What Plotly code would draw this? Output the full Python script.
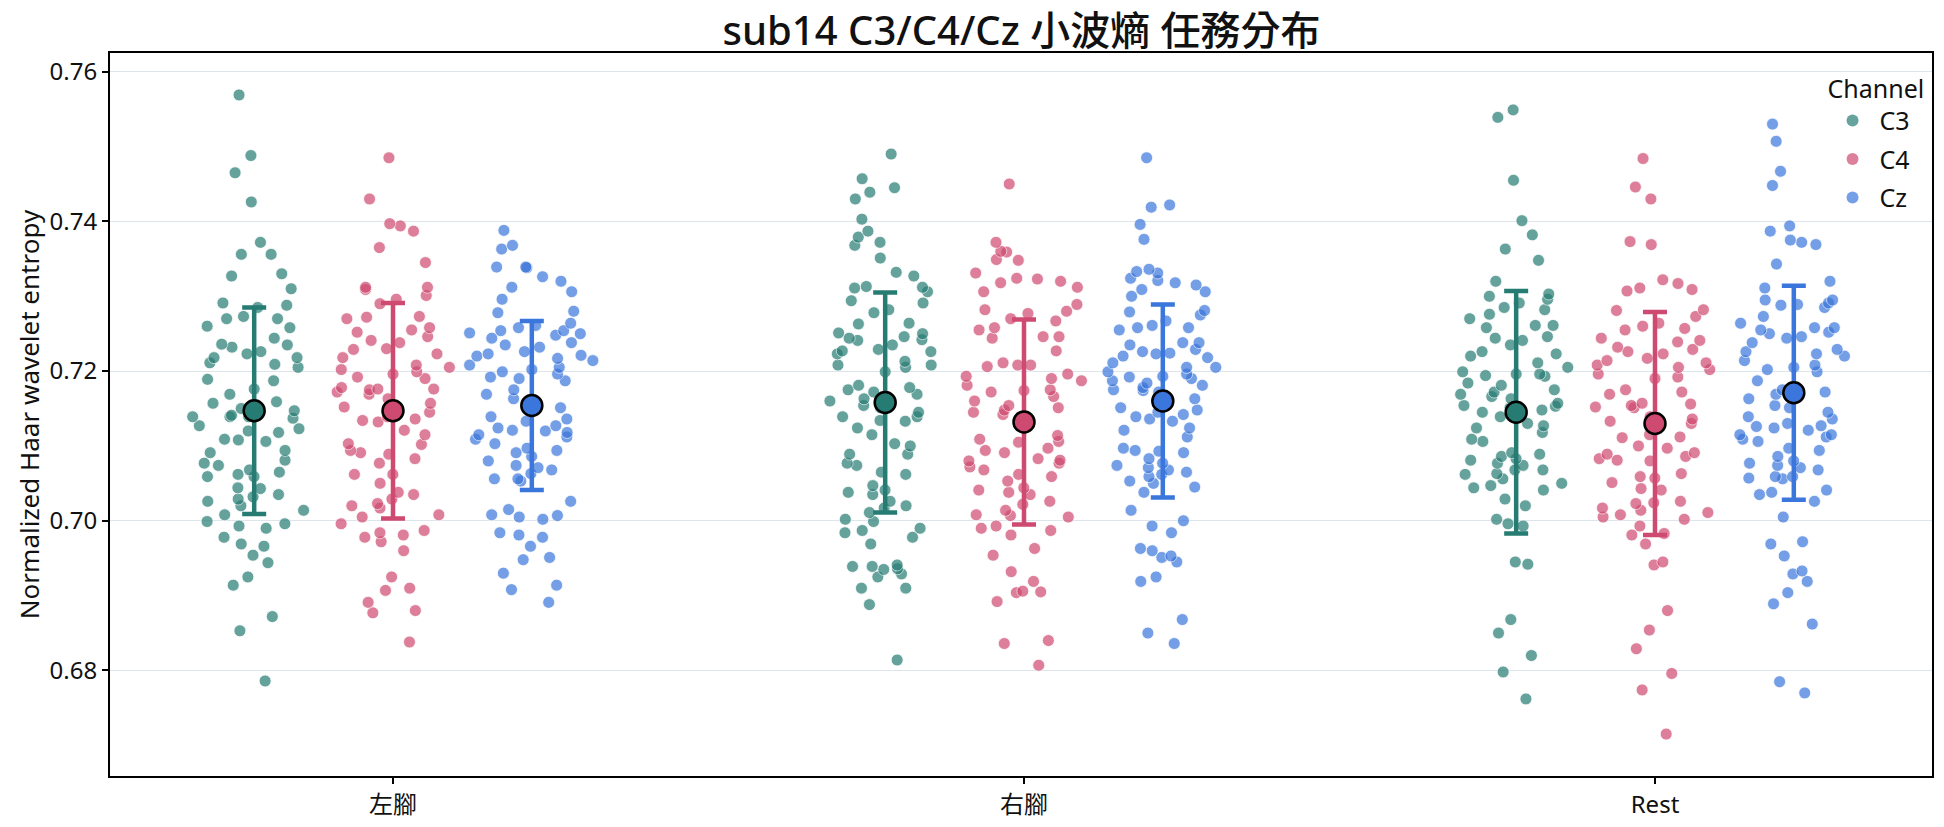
import plotly.graph_objects as go

tasks = ["左腳", "右腳", "Rest"]
channels = ["C3", "C4", "Cz"]
base_colors = {"C3": "#267c73", "C4": "#cf4a70", "Cz": "#3a76db"}

# ---- sample values ----
left_C3 = [0.7569, 0.7488, 0.7465, 0.7426, 0.7372, 0.7356, 0.7356, 0.7330, 0.7327, 0.7310, 0.7291, 0.7288,
           0.7285, 0.7273, 0.7270, 0.7270, 0.7260, 0.7258, 0.7244, 0.7236, 0.7235, 0.7232, 0.7226, 0.7223,
           0.7218, 0.7218, 0.7211, 0.7209, 0.7205, 0.7189, 0.7187, 0.7176, 0.7169, 0.7159, 0.7157, 0.7150,
           0.7147, 0.7141, 0.7139, 0.7139, 0.7139, 0.7137, 0.7127, 0.7123, 0.7120, 0.7118, 0.7109, 0.7108,
           0.7106, 0.7094, 0.7091, 0.7081, 0.7077, 0.7074, 0.7068, 0.7065, 0.7062, 0.7059, 0.7059, 0.7044,
           0.7043, 0.7035, 0.7032, 0.7029, 0.7026, 0.7020, 0.7014, 0.7008, 0.6999, 0.6996, 0.6993, 0.6990,
           0.6978, 0.6969, 0.6966, 0.6954, 0.6944, 0.6925, 0.6914, 0.6872, 0.6853, 0.6786]
left_C4 = [0.7485, 0.7430, 0.7397, 0.7394, 0.7387, 0.7365, 0.7345, 0.7312, 0.7312, 0.7309, 0.7301, 0.7296,
           0.7290, 0.7273, 0.7272, 0.7270, 0.7258, 0.7255, 0.7252, 0.7246, 0.7241, 0.7238, 0.7230, 0.7229,
           0.7223, 0.7218, 0.7208, 0.7205, 0.7202, 0.7199, 0.7196, 0.7192, 0.7190, 0.7178, 0.7176, 0.7176,
           0.7175, 0.7172, 0.7169, 0.7163, 0.7157, 0.7152, 0.7145, 0.7139, 0.7136, 0.7134, 0.7132, 0.7121,
           0.7115, 0.7103, 0.7102, 0.7094, 0.7091, 0.7089, 0.7083, 0.7077, 0.7062, 0.7062, 0.7050, 0.7038,
           0.7035, 0.7029, 0.7023, 0.7020, 0.7017, 0.7008, 0.7005, 0.6996, 0.6987, 0.6984, 0.6981, 0.6978,
           0.6972, 0.6960, 0.6925, 0.6910, 0.6907, 0.6891, 0.6880, 0.6877, 0.6838]
left_Cz = [0.7388, 0.7368, 0.7363, 0.7339, 0.7338, 0.7339, 0.7326, 0.7320, 0.7312, 0.7306, 0.7296, 0.7280,
           0.7278, 0.7264, 0.7261, 0.7258, 0.7254, 0.7254, 0.7251, 0.7250, 0.7248, 0.7244, 0.7238, 0.7235,
           0.7232, 0.7226, 0.7223, 0.7221, 0.7220, 0.7217, 0.7214, 0.7208, 0.7205, 0.7202, 0.7199, 0.7196,
           0.7192, 0.7190, 0.7187, 0.7175, 0.7169, 0.7163, 0.7160, 0.7151, 0.7139, 0.7136, 0.7133, 0.7127,
           0.7124, 0.7121, 0.7120, 0.7118, 0.7115, 0.7112, 0.7109, 0.7103, 0.7097, 0.7094, 0.7091, 0.7086,
           0.7080, 0.7074, 0.7071, 0.7068, 0.7063, 0.7056, 0.7056, 0.7053, 0.7026, 0.7015, 0.7008, 0.7007,
           0.7005, 0.7002, 0.6984, 0.6981, 0.6978, 0.6966, 0.6951, 0.6948, 0.6930, 0.6914, 0.6908, 0.6891]
right_C3 = [0.7490, 0.7457, 0.7445, 0.7439, 0.7430, 0.7403, 0.7387, 0.7379, 0.7372, 0.7368, 0.7351, 0.7332,
            0.7327, 0.7313, 0.7312, 0.7311, 0.7306, 0.7294, 0.7291, 0.7282, 0.7278, 0.7264, 0.7263, 0.7251,
            0.7250, 0.7246, 0.7244, 0.7242, 0.7241, 0.7235, 0.7229, 0.7227, 0.7226, 0.7223, 0.7213, 0.7208,
            0.7208, 0.7205, 0.7199, 0.7181, 0.7178, 0.7175, 0.7172, 0.7169, 0.7163, 0.7160, 0.7154, 0.7151,
            0.7145, 0.7139, 0.7139, 0.7134, 0.7133, 0.7124, 0.7115, 0.7103, 0.7100, 0.7089, 0.7089, 0.7077,
            0.7074, 0.7065, 0.7062, 0.7047, 0.7041, 0.7038, 0.7035, 0.7026, 0.7020, 0.7017, 0.7011, 0.7002,
            0.6999, 0.6990, 0.6987, 0.6984, 0.6978, 0.6969, 0.6941, 0.6939, 0.6939, 0.6936, 0.6935, 0.6929,
            0.6925, 0.6910, 0.6910, 0.6888, 0.6814]
right_C4 = [0.7450, 0.7372, 0.7360, 0.7359, 0.7349, 0.7348, 0.7331, 0.7324, 0.7323, 0.7320, 0.7318, 0.7312,
            0.7306, 0.7289, 0.7282, 0.7280, 0.7277, 0.7270, 0.7267, 0.7258, 0.7255, 0.7246, 0.7246, 0.7244,
            0.7227, 0.7211, 0.7208, 0.7208, 0.7206, 0.7196, 0.7193, 0.7190, 0.7187, 0.7181, 0.7175, 0.7174,
            0.7172, 0.7166, 0.7160, 0.7154, 0.7151, 0.7148, 0.7145, 0.7142, 0.7136, 0.7114, 0.7109, 0.7106,
            0.7105, 0.7097, 0.7094, 0.7091, 0.7083, 0.7081, 0.7080, 0.7077, 0.7072, 0.7068, 0.7062, 0.7059,
            0.7053, 0.7044, 0.7041, 0.7038, 0.7035, 0.7026, 0.7022, 0.7014, 0.7008, 0.7007, 0.7005, 0.6993,
            0.6990, 0.6987, 0.6981, 0.6963, 0.6954, 0.6932, 0.6919, 0.6906, 0.6905, 0.6904, 0.6892, 0.6840,
            0.6836, 0.6807]
right_Cz = [0.7485, 0.7422, 0.7419, 0.7396, 0.7376, 0.7336, 0.7333, 0.7331, 0.7324, 0.7321, 0.7318, 0.7315,
            0.7309, 0.7306, 0.7300, 0.7281, 0.7279, 0.7275, 0.7267, 0.7261, 0.7258, 0.7258, 0.7255, 0.7238,
            0.7238, 0.7235, 0.7229, 0.7226, 0.7224, 0.7223, 0.7220, 0.7218, 0.7211, 0.7205, 0.7205, 0.7199,
            0.7196, 0.7193, 0.7192, 0.7190, 0.7187, 0.7184, 0.7181, 0.7178, 0.7175, 0.7174, 0.7172, 0.7163,
            0.7151, 0.7148, 0.7145, 0.7142, 0.7139, 0.7136, 0.7133, 0.7124, 0.7121, 0.7112, 0.7097, 0.7094,
            0.7093, 0.7091, 0.7083, 0.7077, 0.7074, 0.7071, 0.7068, 0.7065, 0.7062, 0.7059, 0.7053, 0.7050,
            0.7045, 0.7038, 0.7014, 0.7000, 0.6993, 0.6984, 0.6963, 0.6960, 0.6953, 0.6951, 0.6945, 0.6925,
            0.6919, 0.6868, 0.6850, 0.6836]
rest_C3 = [0.7549, 0.7539, 0.7455, 0.7401, 0.7382, 0.7363, 0.7348, 0.7320, 0.7303, 0.7300, 0.7296, 0.7291,
           0.7285, 0.7282, 0.7276, 0.7270, 0.7261, 0.7261, 0.7258, 0.7246, 0.7244, 0.7241, 0.7235, 0.7226,
           0.7223, 0.7220, 0.7211, 0.7205, 0.7199, 0.7196, 0.7196, 0.7194, 0.7193, 0.7184, 0.7181, 0.7175,
           0.7172, 0.7169, 0.7166, 0.7163, 0.7157, 0.7154, 0.7153, 0.7151, 0.7148, 0.7145, 0.7139, 0.7130,
           0.7127, 0.7124, 0.7118, 0.7109, 0.7106, 0.7091, 0.7089, 0.7086, 0.7083, 0.7081, 0.7077, 0.7074,
           0.7068, 0.7068, 0.7063, 0.7062, 0.7056, 0.7050, 0.7047, 0.7044, 0.7041, 0.7029, 0.7020, 0.7002,
           0.6996, 0.6993, 0.6945, 0.6942, 0.6868, 0.6850, 0.6820, 0.6798, 0.6762]
rest_C4 = [0.7484, 0.7446, 0.7430, 0.7373, 0.7369, 0.7322, 0.7317, 0.7311, 0.7309, 0.7307, 0.7282, 0.7281,
           0.7273, 0.7264, 0.7260, 0.7257, 0.7255, 0.7244, 0.7241, 0.7239, 0.7232, 0.7229, 0.7226, 0.7223,
           0.7217, 0.7214, 0.7211, 0.7208, 0.7205, 0.7202, 0.7196, 0.7192, 0.7190, 0.7175, 0.7172, 0.7169,
           0.7157, 0.7156, 0.7154, 0.7152, 0.7151, 0.7139, 0.7136, 0.7133, 0.7130, 0.7115, 0.7112, 0.7111,
           0.7100, 0.7097, 0.7091, 0.7089, 0.7086, 0.7083, 0.7081, 0.7080, 0.7063, 0.7059, 0.7057, 0.7051,
           0.7043, 0.7041, 0.7026, 0.7024, 0.7023, 0.7017, 0.7014, 0.7011, 0.7008, 0.7005, 0.7002, 0.6993,
           0.6983, 0.6981, 0.6969, 0.6945, 0.6941, 0.6880, 0.6854, 0.6829, 0.6796, 0.6774, 0.6715]
rest_Cz = [0.7530, 0.7507, 0.7467, 0.7448, 0.7394, 0.7387, 0.7375, 0.7372, 0.7369, 0.7343, 0.7320, 0.7311,
           0.7295, 0.7295, 0.7291, 0.7289, 0.7288, 0.7285, 0.7273, 0.7264, 0.7258, 0.7258, 0.7255, 0.7252,
           0.7250, 0.7246, 0.7244, 0.7238, 0.7229, 0.7226, 0.7223, 0.7220, 0.7214, 0.7208, 0.7205, 0.7202,
           0.7199, 0.7187, 0.7175, 0.7172, 0.7169, 0.7163, 0.7154, 0.7151, 0.7145, 0.7139, 0.7136, 0.7130,
           0.7127, 0.7126, 0.7124, 0.7121, 0.7115, 0.7115, 0.7112, 0.7109, 0.7106, 0.7097, 0.7094, 0.7086,
           0.7080, 0.7077, 0.7074, 0.7071, 0.7068, 0.7059, 0.7059, 0.7057, 0.7056, 0.7041, 0.7038, 0.7035,
           0.7026, 0.7005, 0.6972, 0.6969, 0.6953, 0.6933, 0.6929, 0.6919, 0.6904, 0.6889, 0.6862, 0.6785,
           0.6770]

samples = {
    ("左腳", "C3"): left_C3, ("左腳", "C4"): left_C4, ("左腳", "Cz"): left_Cz,
    ("右腳", "C3"): right_C3, ("右腳", "C4"): right_C4, ("右腳", "Cz"): right_Cz,
    ("Rest", "C3"): rest_C3, ("Rest", "C4"): rest_C4, ("Rest", "Cz"): rest_Cz,
}

# mean and SD per task (order: 左腳, 右腳, Rest)
mean_C3 = [0.7147, 0.7158, 0.7145]
mean_C4 = [0.7147, 0.7132, 0.7130]
mean_Cz = [0.7154, 0.7160, 0.7171]
sd_C3 = [0.0138, 0.0147, 0.0162]
sd_C4 = [0.0144, 0.0137, 0.0149]
sd_Cz = [0.0113, 0.0129, 0.0143]
means = {"C3": mean_C3, "C4": mean_C4, "Cz": mean_Cz}
sds = {"C3": sd_C3, "C4": sd_C4, "Cz": sd_Cz}

y_ticks = [0.68, 0.70, 0.72, 0.74, 0.76]

# ---- layout parameters ----
offsets = {"C3": -0.22, "C4": 0.0, "Cz": 0.22}
FONT = "Noto Sans, Noto Sans CJK TC, sans-serif"

fig = go.Figure()

for ti, task in enumerate(tasks):
    for ch in channels:
        vals = samples[(task, ch)]
        pos = ti + offsets[ch]
        fig.add_trace(go.Box(
            x=[pos] * len(vals), y=vals,
            boxpoints="all", jitter=1.0, pointpos=0, width=0.21,
            fillcolor="rgba(0,0,0,0)", line=dict(color="rgba(0,0,0,0)", width=0),
            marker=dict(color=base_colors[ch], size=12, opacity=0.7,
                        line=dict(color="white", width=0.8)),
            showlegend=False, hoveron="points", name=ch,
        ))

for ch in channels:
    xs = [ti + offsets[ch] for ti in range(len(tasks))]
    fig.add_trace(go.Scatter(
        x=xs, y=means[ch], mode="markers",
        marker=dict(color=base_colors[ch], size=21, line=dict(color="black", width=2.5)),
        error_y=dict(type="data", array=sds[ch], visible=True, color=base_colors[ch],
                     thickness=4.5, width=12),
        showlegend=False, name=ch,
    ))

for ch in channels:
    fig.add_trace(go.Scatter(
        x=[None], y=[None], mode="markers", name=ch, legendgroup=ch,
        marker=dict(color=base_colors[ch], size=12, opacity=0.7),
        showlegend=True,
    ))

fig.update_layout(
    width=1944, height=827,
    margin=dict(l=110, r=12, t=53, b=51),
    paper_bgcolor="white", plot_bgcolor="white",
    font=dict(family=FONT, size=24, color="#111111"),
    title=dict(text="sub14 C3/C4/Cz 小波熵 任務分布", x=0.5255, xanchor="center",
               y=0.962, yanchor="middle",
               font=dict(family=FONT, size=40, color="#111111", weight=500)),
    boxmode="overlay",
    showlegend=True,
    legend=dict(title=dict(text="Channel", font=dict(size=25)),
                x=0.997, xanchor="right", y=0.983, yanchor="top",
                bgcolor="rgba(0,0,0,0)", font=dict(size=25), tracegroupgap=3,
                itemwidth=44),
)

fig.update_xaxes(
    range=[-0.4485, 2.439], automargin=False,
    tickvals=list(range(len(tasks))), ticktext=tasks,
    showgrid=False, zeroline=False,
    showline=True, linecolor="black", linewidth=2, mirror=True,
    ticks="outside", ticklen=6, tickwidth=1.5, tickcolor="black",
    tickfont=dict(size=24),
)
fig.update_yaxes(
    range=[0.6659, 0.7625], automargin=False,
    tickvals=y_ticks, ticktext=[f"{v:.2f}" for v in y_ticks],
    showgrid=True, gridcolor="#dde5ec", gridwidth=1, zeroline=False,
    showline=True, linecolor="black", linewidth=2, mirror=True,
    ticks="outside", ticklen=6, tickwidth=1.5, tickcolor="black",
    tickfont=dict(size=24),
    title=dict(text="Normalized Haar wavelet entropy", font=dict(size=26), standoff=2),
)

fig.write_html("out.html")
